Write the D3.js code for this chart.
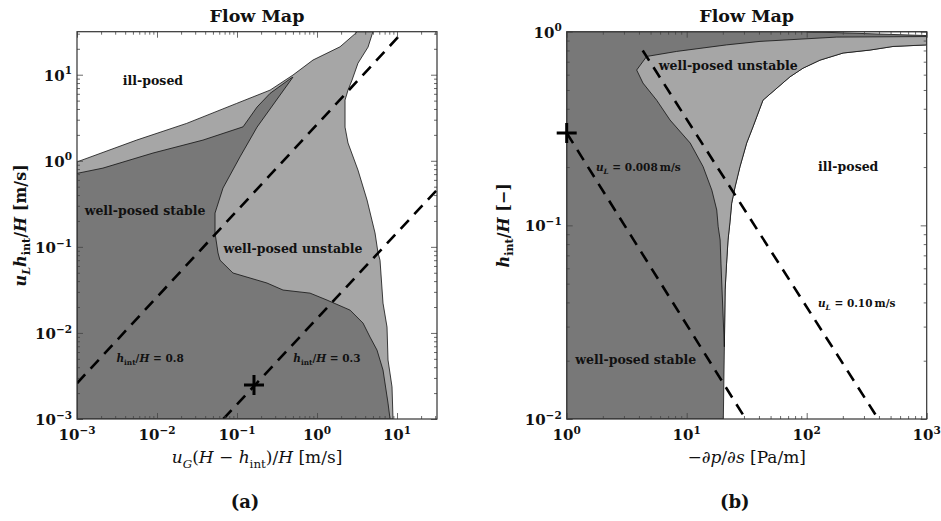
<!DOCTYPE html>
<html>
<head>
  <meta charset="utf-8" />
  <title>Flow Map</title>
  <script src="https://d3js.org/d3.v7.min.js"></script>
  <style>
    body, html { margin: 0; background: #fff; }
    svg text { font-family: "DejaVu Serif", "Liberation Serif", serif; fill: #111; }
  </style>
</head>
<body>
<svg id="chart" width="941" height="521"></svg>
<script>

// ---- panel (a): u_G(H-h)/H vs u_L h/H ----
var aXDomain = [1e-3, 31.6];
var aYDomain = [1e-3, 31.6];
var aXTicks = [-3, -2, -1, 0, 1];
var aYTicks = [-3, -2, -1, 0, 1];

// upper (ill-posed) edge of the well-posed area, left edge -> top edge
var aIllTop = [[0.001, 0.97], [0.00557, 1.74], [0.0235, 2.72], [0.099, 4.64], [0.259, 6.62],
  [0.50, 9.9], [0.89, 14.8], [1.94, 21.1], [3.2, 31.6]];
// right (ill-posed) edge, top edge -> bottom edge
var aIllRight = [[5.0, 31.6], [4.34, 20.9], [3.25, 13.6], [2.74, 8.65], [2.44, 6.62], [2.24, 5.07],
  [2.24, 2.46], [2.44, 1.61], [3.25, 0.78], [4.22, 0.35], [5.31, 0.145], [5.79, 0.085],
  [6.13, 0.070], [6.68, 0.0222], [7.5, 0.0117], [7.72, 0.00484], [8.66, 0.00236], [8.91, 0.001]];
// well-posed stable region
var aStable = [[0.001, 0.001], [0.001, 0.714], [0.00211, 0.822], [0.00891, 1.23], [0.0376, 1.74],
  [0.119, 2.48], [0.178, 4.21], [0.259, 6.07], [0.473, 9.12], [0.50, 9.37],
  [0.178, 2.46], [0.109, 1.11], [0.0668, 0.482], [0.0531, 0.247], [0.0531, 0.145],
  [0.0579, 0.085], [0.0613, 0.070], [0.089, 0.0497], [0.237, 0.038], [0.376, 0.0315],
  [0.818, 0.029], [1.33, 0.0241], [2.59, 0.0184], [3.76, 0.0130], [4.60, 0.00895],
  [5.62, 0.00632], [6.68, 0.00371], [7.72, 0.00153], [8.18, 0.001]];
var aLine08 = [[0.001, 0.0026], [11.9, 31.6]];
var aLine03 = [[0.0675, 0.001], [31.6, 0.46]];
var aMarker = [0.163, 0.00248];

// ---- panel (b): -dp/ds vs h/H ----
var bXDomain = [1, 1000];
var bYDomain = [0.01, 1];
var bXTicks = [0, 1, 2, 3];
var bYTicks = [-2, -1, 0];

// ill-posed edge, right edge -> bottom edge
var bIllEdge = [[1000, 0.855], [524, 0.839], [337, 0.804], [201, 0.776], [129, 0.713], [93.1, 0.648],
  [72.6, 0.585], [43.2, 0.443], [35.7, 0.323], [31.6, 0.266], [27.8, 0.201], [25.3, 0.158],
  [23.7, 0.130], [22.9, 0.103], [22.1, 0.084], [21.5, 0.0638], [20.9, 0.0464], [20.6, 0.0236],
  [20.2, 0.01]];
// unstable wedge: upper edge tip -> right, left edge tail -> tip
var bUnstableTop = [[3.83, 0.634], [4.64, 0.745], [8.25, 0.791], [21.5, 0.855], [40.8, 0.891],
  [178, 0.938], [1000, 0.944]];
var bUnstableLeft = [[20.6, 0.0236], [19.7, 0.0464], [19.3, 0.0638], [19.0, 0.084], [18.3, 0.0984],
  [17.8, 0.120], [16.2, 0.152], [13.7, 0.201], [10.7, 0.266], [7.26, 0.350], [5.62, 0.443],
  [4.32, 0.543], [3.83, 0.634]];
var bTopSliver = [[100, 1], [1000, 1], [1000, 0.955]];
var bLine008 = [[1.0, 0.30], [31, 0.01]];
var bLine010 = [[4.3, 0.80], [395, 0.01]];
var bMarker = [1.0, 0.30];

var DARK = "#787878", LIGHT = "#a6a6a6";
var W = 360, H = 387.3, TOP = 31.7;

var svg = d3.select("#chart");

// text with italic / sub / superscript pieces
function rich(t, parts, size) {
  var shift = 0;
  parts.forEach(function (p) {
    var st = p[1] || "";
    var target = st.indexOf("_") >= 0 ? 0.28 * size : (st.indexOf("^") >= 0 ? -0.42 * size : 0);
    var ts = t.append("tspan").text(p[0]).attr("dy", target - shift);
    shift = target;
    if (target !== 0) ts.attr("font-size", size * 0.7);
    if (st.indexOf("i") >= 0) ts.attr("font-style", "italic");
  });
  return t;
}

function label(g, px, py, parts, size, bold, anchor) {
  var t = g.append("text").attr("x", px).attr("y", py)
    .attr("font-size", size)
    .attr("font-weight", bold ? "bold" : "normal")
    .attr("text-anchor", anchor || "middle");
  return rich(t, parts, size);
}

function minors(dom) {
  var out = [];
  for (var e = Math.floor(Math.log10(dom[0])); e <= Math.ceil(Math.log10(dom[1])); e++) {
    for (var m = 2; m <= 9; m++) {
      var v = m * Math.pow(10, e);
      if (v > dom[0] * 1.0001 && v < dom[1] * 0.9999) out.push(v);
    }
  }
  return out;
}

function expText(e) { return e < 0 ? "\u2212" + (-e) : String(e); }

function drawPanel(p) {
  var g = svg.append("g").attr("transform", "translate(" + p.left + "," + TOP + ")");
  var x = d3.scaleLog().domain(p.xDomain).range([0, W]);
  var y = d3.scaleLog().domain(p.yDomain).range([H, 0]);
  var line = d3.line().x(function (d) { return x(d[0]); }).y(function (d) { return y(d[1]); });

  g.append("clipPath").attr("id", "clip" + p.id)
    .append("rect").attr("width", W).attr("height", H);
  var plot = g.append("g").attr("clip-path", "url(#clip" + p.id + ")");
  plot.append("rect").attr("width", W).attr("height", H).attr("fill", "#fff");

  p.regions.forEach(function (r) {
    plot.append("path").datum(r.pts)
      .attr("d", function (d) { return line(d) + "Z"; })
      .attr("fill", r.fill).attr("stroke", "#111").attr("stroke-width", 0.8)
      .attr("stroke-linejoin", "round");
  });

  p.dashed.forEach(function (l) {
    plot.append("path").datum(l).attr("d", line)
      .attr("fill", "none").attr("stroke", "#000").attr("stroke-width", 2.6)
      .attr("stroke-dasharray", "12,8");
  });

  // ticks on all four sides, pointing inwards
  var sides = [
    [d3.axisBottom(x), "translate(0," + H + ")", p.xDomain],
    [d3.axisTop(x), "translate(0,0)", p.xDomain],
    [d3.axisLeft(y), "translate(0,0)", p.yDomain],
    [d3.axisRight(y), "translate(" + W + ",0)", p.yDomain]
  ];
  sides.forEach(function (s, i) {
    var majors = (i < 2 ? p.xTicks : p.yTicks).map(function (e) { return Math.pow(10, e); });
    [[majors, 6], [minors(s[2]), 3]].forEach(function (set) {
      var ax = g.append("g").attr("transform", s[1])
        .call(s[0].tickValues(set[0]).tickSize(-set[1]).tickSizeOuter(0).tickFormat(""));
      ax.select(".domain").remove();
      ax.selectAll(".tick line").attr("stroke", "#444").attr("stroke-width", 0.8);
    });
  });

  g.append("rect").attr("width", W).attr("height", H)
    .attr("fill", "none").attr("stroke", "#333").attr("stroke-width", 1.2);

  // marker
  var mx = x(p.marker[0]), my = y(p.marker[1]);
  g.append("path").attr("d", "M" + (mx - 10) + "," + my + "H" + (mx + 10) + "M" + mx + "," + (my - 10) + "V" + (my + 10))
    .attr("stroke", "#000").attr("stroke-width", 3);

  // tick labels
  p.xTicks.forEach(function (e) {
    label(g, x(Math.pow(10, e)), H + 21, [["10", ""], [expText(e), "^"]], 15, true);
  });
  p.yTicks.forEach(function (e) {
    label(g, -5, y(Math.pow(10, e)) + 6, [["10", ""], [expText(e), "^"]], 15, true, "end");
  });

  // axis titles
  label(g, W / 2, H + 44, p.xLabel, 17, false);
  var yl = label(g, 0, 0, p.yLabel, 16, true);
  yl.attr("transform", "translate(" + p.yLabelX + "," + (H / 2) + ") rotate(-90)");

  label(g, W / 2, -10, [["Flow Map", ""]], 17.5, true);
  label(g, p.captionX, 476, [[p.caption, ""]], 18, true);

  p.notes.forEach(function (n) {
    label(g, x(n.at[0]), y(n.at[1]) + 4, n.parts, n.size, true);
  });
}

drawPanel({
  id: "a", left: 77,
  xDomain: aXDomain, yDomain: aYDomain, xTicks: aXTicks, yTicks: aYTicks,
  regions: [
    { pts: [[0.001, 0.001]].concat(aIllTop, aIllRight), fill: LIGHT },
    { pts: aStable, fill: DARK }
  ],
  dashed: [aLine08, aLine03],
  marker: aMarker,
  xLabel: [["u", "i"], ["G", "i_"], ["(", ""], ["H", "i"], [" \u2212 ", ""], ["h", "i"], ["int", "_"],
    [")/", ""], ["H", "i"], [" [m/s]", ""]],
  yLabel: [["u", "i"], ["L", "i_"], ["h", "i"], ["int", "_"], ["/", ""], ["H", "i"], [" [m/s]", ""]],
  yLabelX: -51,
  caption: "(a)", captionX: 168,
  notes: [
    { at: [0.0089, 8.4], parts: [["ill-posed", ""]], size: 12.5 },
    { at: [0.0071, 0.26], parts: [["well-posed stable", ""]], size: 12.5 },
    { at: [0.50, 0.094], parts: [["well-posed unstable", ""]], size: 12.5 },
    { at: [0.0082, 0.0051], parts: [["h", "i"], ["int", "_"], ["/", ""], ["H", "i"], [" = 0.8", ""]], size: 10.5 },
    { at: [1.33, 0.0051], parts: [["h", "i"], ["int", "_"], ["/", ""], ["H", "i"], [" = 0.3", ""]], size: 10.5 }
  ]
});

drawPanel({
  id: "b", left: 566.7,
  xDomain: bXDomain, yDomain: bYDomain, xTicks: bXTicks, yTicks: bYTicks,
  regions: [
    { pts: [[1, 0.01], [1, 1], [1000, 1]].concat(bIllEdge), fill: DARK },
    { pts: bUnstableTop.concat(bIllEdge.slice(0, -1), bUnstableLeft), fill: LIGHT },
    { pts: bTopSliver, fill: "#fff" }
  ],
  dashed: [bLine008, bLine010],
  marker: bMarker,
  xLabel: [["\u2212\u2202", ""], ["p", "i"], ["/\u2202", ""], ["s", "i"], [" [Pa/m]", ""]],
  yLabel: [["h", "i"], ["int", "_"], ["/", ""], ["H", "i"], [" [\u2212]", ""]],
  yLabelX: -58,
  caption: "(b)", captionX: 168,
  notes: [
    { at: [22.2, 0.667], parts: [["well-posed unstable", ""]], size: 12.5 },
    { at: [222, 0.201], parts: [["ill-posed", ""]], size: 12.5 },
    { at: [3.95, 0.201], parts: [["u", "i"], ["L", "i_"], [" = 0.008\u2009m/s", ""]], size: 10.5 },
    { at: [3.76, 0.0202], parts: [["well-posed stable", ""]], size: 12.5 },
    { at: [261, 0.0398], parts: [["u", "i"], ["L", "i_"], [" = 0.10\u2009m/s", ""]], size: 10.5 }
  ]
});

</script>
</body>
</html>
